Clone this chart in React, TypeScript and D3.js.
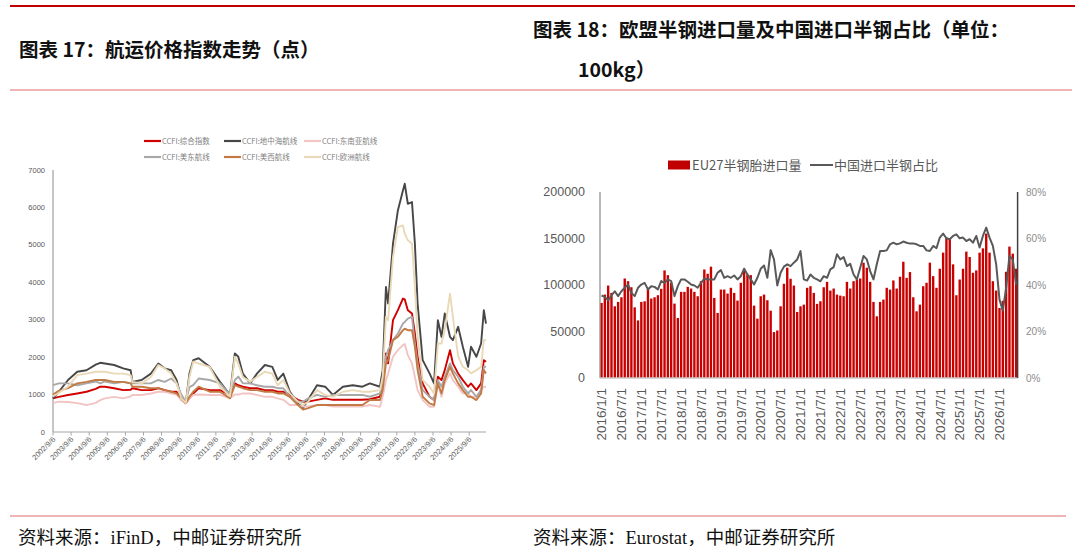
import React from 'react';
import * as d3 from 'd3';

// ---------- 图表17：CCFI 航运价格指数 ----------
const ccfiTime = [
  2002.68, 2003.0, 2003.51, 2004.02, 2004.53, 2005.04, 2005.29, 2005.55, 2006.06, 2006.56,
  2006.97, 2007.07, 2007.58, 2008.09, 2008.5, 2008.85, 2009.21, 2009.51, 2009.77, 2010.02,
  2010.22, 2010.43, 2010.73, 2011.34, 2011.91, 2012.46, 2012.73, 2012.92, 2013.17, 2013.58,
  2013.95, 2014.39, 2014.8, 2015.1, 2015.41, 2015.77, 2016.22, 2016.5, 2016.78, 2017.27,
  2017.72, 2018.15, 2018.7, 2019.25, 2019.78, 2020.19, 2020.75, 2020.9, 2021.08, 2021.2,
  2021.47, 2021.74, 2022.02, 2022.12, 2022.29, 2022.52, 2022.68, 2022.83, 2023.11, 2023.49,
  2023.74, 2023.95, 2024.15, 2024.33, 2024.62, 2024.78, 2025.07, 2025.33, 2025.62, 2025.78,
  2026.08, 2026.34, 2026.49, 2026.61,
];
const ccfiComposite = [
  900, 940, 990, 1030, 1075, 1150, 1210, 1210, 1170, 1120,
  1130, 1170, 1120, 1120, 1170, 1120, 1076, 1076, 860, 770,
  900, 1030, 1170, 1120, 1120, 990, 1300, 1250, 1210, 1170,
  1170, 1120, 1120, 1076, 1076, 990, 860, 810, 810, 860,
  900, 860, 860, 860, 860, 876, 942, 1298, 2098, 1832,
  2987, 3254, 3565, 3543, 3254, 3165, 2632, 2009, 1298, 942,
  853, 1476, 1387, 1653, 2187, 1832, 1565, 1387, 1209, 1298,
  1120, 1298, 1920, 1876,
];
const ccfiMed = [
  900, 1075, 1390, 1610, 1650, 1800, 1850, 1830, 1790, 1700,
  1650, 1340, 1390, 1560, 1830, 1700, 1650, 1390, 900, 780,
  1560, 1920, 1970, 1740, 1340, 990, 2100, 2010, 1560, 1300,
  1560, 1790, 1740, 1390, 1560, 1075, 770, 640, 860, 1250,
  1210, 990, 1210, 1250, 1210, 1300, 1209, 1653, 3876, 3432,
  5032, 5920, 6454, 6632, 6098, 6143, 5032, 3432, 1920, 1565,
  1298, 2987, 2543, 3165, 2543, 2454, 2810, 2276, 1742, 2276,
  2009, 2365, 3254, 2898,
];
const ccfiSEA = [
  770, 810, 800, 770, 720, 780, 850, 900, 940, 900,
  950, 990, 990, 1030, 1075, 1075, 1030, 990, 860, 770,
  900, 990, 1000, 990, 990, 900, 1000, 1000, 1030, 1030,
  990, 940, 940, 900, 860, 720, 720, 680, 680, 720,
  720, 680, 680, 680, 680, 720, 676, 942, 1387, 1565,
  2009, 2187, 2320, 2350, 2054, 1832, 1476, 1120, 853, 676,
  676, 1298, 942, 1298, 1565, 1387, 1209, 1031, 1031, 942,
  942, 1120, 1209, 1209,
];
const ccfiUSEast = [
  1250, 1300, 1300, 1250, 1300, 1350, 1300, 1350, 1300, 1340,
  1300, 1300, 1300, 1300, 1390, 1340, 1430, 1300, 1000, 800,
  1200, 1250, 1430, 1390, 1300, 1000, 1390, 1480, 1300, 1300,
  1250, 1210, 1210, 1170, 1170, 940, 810, 810, 900, 990,
  940, 990, 990, 990, 990, 942, 1031, 1298, 2009, 2187,
  2454, 2632, 2898, 2940, 3030, 3076, 2365, 1832, 1120, 942,
  853, 1387, 1209, 1476, 1832, 1653, 1476, 1209, 1031, 1120,
  942, 1120, 1742, 1742,
];
const ccfiUSWest = [
  1000, 1100, 1170, 1300, 1340, 1390, 1390, 1390, 1340, 1340,
  1300, 1210, 1210, 1170, 1170, 1120, 1076, 1030, 900, 780,
  940, 1076, 1210, 1076, 1076, 900, 1250, 1210, 1170, 1120,
  1120, 1075, 1075, 1030, 1030, 940, 720, 600, 640, 720,
  720, 720, 720, 720, 720, 853, 853, 1120, 1832, 1920,
  2454, 2543, 2720, 2760, 2720, 2720, 2276, 1653, 942, 764,
  720, 1298, 1031, 1387, 1742, 1565, 1298, 1120, 942, 942,
  853, 1031, 1653, 1565,
];
const ccfiEurope = [
  950, 1050, 1210, 1520, 1560, 1610, 1610, 1610, 1560, 1560,
  1520, 1340, 1300, 1470, 1790, 1700, 1560, 1300, 900, 780,
  1470, 1880, 1830, 1740, 1210, 950, 2010, 1830, 1470, 1340,
  1470, 1610, 1560, 1250, 1390, 1030, 810, 720, 810, 1120,
  990, 940, 1075, 1120, 1075, 1076, 1120, 1476, 3076, 2987,
  4676, 5476, 5520, 5298, 5120, 5032, 3876, 2543, 1387, 1209,
  1031, 2365, 2365, 2720, 3698, 3076, 2030, 1742, 1653, 1565,
  1653, 1742, 2454, 2454,
];
const ccfiYTicks = [0, 1000, 2000, 3000, 4000, 5000, 6000, 7000];
const ccfiXTicks = [
  '2002/9/6', '2003/9/6', '2004/9/6', '2005/9/6', '2006/9/6', '2007/9/6', '2008/9/6', '2009/9/6',
  '2010/9/6', '2011/9/6', '2012/9/6', '2013/9/6', '2014/9/6', '2015/9/6', '2016/9/6', '2017/9/6',
  '2018/9/6', '2019/9/6', '2020/9/6', '2021/9/6', '2022/9/6', '2023/9/6', '2024/9/6', '2025/9/6',
];

// ---------- 图表18：欧盟半钢胎进口量 ----------
const tyreMonths = Array.from({ length: 126 }, (_, i) => `${2016 + Math.floor(i / 12)}/${(i % 12) + 1}/1`);
const tyreImports = [
  80700, 89700, 99400, 91500, 77100, 81800, 86800, 107000, 104100, 97600,
  76000, 61900, 81800, 82500, 95900, 85400, 86800, 89000, 95900, 115700,
  110600, 102400, 80000, 64500, 92600, 92600, 98000, 96200, 92600, 87900,
  104100, 116700, 112100, 119700, 86100, 69900, 95100, 95100, 90800, 97000,
  91500, 83200, 102400, 116700, 111300, 110600, 77800, 63800, 87900, 89700,
  83600, 72400, 49400, 51100, 77100, 101300, 118600, 106700, 99400, 71000,
  77100, 78900, 97000, 98700, 91500,
  79700, 82500, 97600, 103400, 94000, 96200, 89700, 88600, 87900, 103400,
  96200, 104100, 105900, 107000, 124000, 118600, 103400, 81800, 66300, 81800,
  84300, 97000, 95100, 104900, 96200, 108900, 125000, 107700, 113900, 86800,
  71700, 78900, 98700, 102400, 124000, 109500, 97000, 117500, 134800, 151000,
  150300, 122200, 89000, 105900, 117500, 135900, 130100, 113100, 115700, 134800,
  139400, 155300, 134800, 104100, 94000, 75300, 83000, 114200, 141300, 133700,
  117500,
];
const chinaShare = [
  35.5, 34.9, 33.4, 35.5, 37.3, 35.2, 37.3, 38.8, 40.2, 36.6,
  35.2, 38.8, 40.2, 40.9, 38.1, 39.5, 39.2, 38.1, 41.7, 40.9,
  42.4, 41.7, 35.2, 39.5, 42.4, 42.4, 41.4, 40.2, 39.8, 38.8,
  40.9, 42.8, 42.4, 42.4, 42.4, 45.3, 46.4, 43.1, 43.8, 43.1,
  44.1, 42.4, 43.8, 47.0, 44.5, 42.4, 40.2, 43.1, 47.0, 48.4,
  43.1, 55.0, 51.0, 39.8, 45.3, 47.9, 48.9, 48.1, 49.6, 51.0,
  54.6, 42.4, 41.9, 44.5, 43.1,
  42.4, 41.6, 43.8, 43.1, 46.7, 47.7, 53.2, 51.0, 52.0, 48.1,
  49.1, 44.5, 42.4, 47.4, 52.5, 51.0, 46.0, 42.4, 48.9, 54.6,
  54.6, 54.9, 57.5, 58.2, 57.5, 57.9, 58.7, 58.2, 57.8, 57.9,
  57.5, 56.8, 56.8, 54.9, 54.6, 56.8, 55.8, 60.4, 62.1, 60.1,
  59.7, 61.1, 61.8, 60.1, 60.4, 58.9, 59.7, 58.2, 61.1, 56.1,
  61.1, 64.7, 60.4, 56.8, 48.9, 33.7, 29.0, 38.8, 52.5, 51.0,
  40.2,
];
const tyreYTicks = [0, 50000, 100000, 150000, 200000];
const shareTicks = [0, 20, 40, 60, 80];
const tyreXTicks = [
  '2016/1/1', '2016/7/1', '2017/1/1', '2017/7/1', '2018/1/1', '2018/7/1', '2019/1/1',
  '2019/7/1', '2020/1/1', '2020/7/1', '2021/1/1', '2021/7/1', '2022/1/1', '2022/7/1',
  '2023/1/1', '2023/7/1', '2024/1/1', '2024/7/1', '2025/1/1', '2025/7/1', '2026/1/1',
];

const SANS = "'Liberation Sans', Arial, 'Noto Sans CJK SC', sans-serif";
const CJK = "'Noto Sans CJK SC', 'Liberation Sans', sans-serif";
const SERIF = "'Liberation Serif', 'Noto Sans CJK SC', serif";

const ccfiSeries = [
  { name: 'CCFI:综合指数', values: ccfiComposite, color: '#d00000' },
  { name: 'CCFI:地中海航线', values: ccfiMed, color: '#474747' },
  { name: 'CCFI:东南亚航线', values: ccfiSEA, color: '#f2c4c4' },
  { name: 'CCFI:美东航线', values: ccfiUSEast, color: '#a8a8a8' },
  { name: 'CCFI:美西航线', values: ccfiUSWest, color: '#c27a45' },
  { name: 'CCFI:欧洲航线', values: ccfiEurope, color: '#ead9b6' },
];

function CcfiChart() {
  const x = d3.scaleLinear().domain([2002.68, 2026.61]).range([53, 486]);
  const y = d3.scaleLinear().domain([0, 7000]).range([432, 170]);
  const line = d3.line<number>()
    .x((_, i) => x(ccfiTime[i]))
    .y((d) => y(d));
  const legendCols = [144, 224, 304];

  return (
    <g>
      {ccfiSeries.map((s, k) => {
        const lx = legendCols[k % 3];
        const ly = k < 3 ? 141 : 157;
        return (
          <g key={s.name}>
            <line x1={lx} x2={lx + 17} y1={ly} y2={ly} stroke={s.color} strokeWidth={2.2} />
            <text x={lx + 18} y={ly} dy="0.35em" fontSize={7.5} fill="#7f7f7f" fontFamily={CJK}>{s.name}</text>
          </g>
        );
      })}
      {ccfiYTicks.map((t) => (
        <text key={t} x={45} y={y(t)} dy="0.35em" textAnchor="end" fontSize={7.5} fill="#595959" fontFamily={SANS}>{t}</text>
      ))}
      <line x1={53} x2={53} y1={170} y2={432} stroke="#8c8c8c" strokeWidth={1} />
      <line x1={53} x2={486} y1={432} y2={432} stroke="#a6a6a6" strokeWidth={1.2} />
      {ccfiXTicks.map((lab) => {
        const tx = x(parseInt(lab) + 0.68);
        return (
          <g key={lab}>
            <line x1={tx} x2={tx} y1={432} y2={435.5} stroke="#a6a6a6" strokeWidth={1} />
            <text transform={`translate(${tx + 1},${438}) rotate(-45)`} textAnchor="end" dy="0.35em" fontSize={7.5} fill="#595959" fontFamily={SANS}>{lab}</text>
          </g>
        );
      })}
      {ccfiSeries.map((s) => (
        <path key={s.name} d={line(s.values) ?? ''} fill="none" stroke={s.color} strokeWidth={1.9} strokeLinejoin="round" />
      ))}
    </g>
  );
}

function TyreChart() {
  const x = d3.scaleBand<string>().domain(tyreMonths).range([600, 1017.6]).paddingInner(0.28).paddingOuter(0.1);
  const y = d3.scaleLinear().domain([0, 200000]).range([378, 192]);
  const y2 = d3.scaleLinear().domain([0, 80]).range([378, 192]);
  const bw = x.bandwidth();
  const line = d3.line<number>()
    .x((_, i) => (x(tyreMonths[i]) ?? 0) + bw / 2)
    .y((d) => y2(d));

  return (
    <g>
      <rect x={668} y={160.5} width={22} height={9} fill="#c00000" />
      <text x={692} y={165} dy="0.35em" fontSize={13} fill="#595959" fontFamily={CJK}>EU27半钢胎进口量</text>
      <line x1={810} x2={833} y1={165} y2={165} stroke="#595959" strokeWidth={2} />
      <text x={834} y={165} dy="0.35em" fontSize={13} fill="#595959" fontFamily={CJK}>中国进口半钢占比</text>

      {tyreYTicks.map((t) => (
        <text key={t} x={585} y={y(t)} dy="0.35em" textAnchor="end" fontSize={12.5} fill="#595959" fontFamily={SANS}>{t}</text>
      ))}
      {shareTicks.map((t) => (
        <text key={t} x={1026} y={y2(t)} dy="0.35em" fontSize={10} fill="#8c8c8c" fontFamily={SANS}>{t}%</text>
      ))}

      {tyreImports.map((v, i) => (
        <rect key={i} x={x(tyreMonths[i])} y={y(v)} width={bw} height={378 - y(v)} fill="#c80000" />
      ))}

      <line x1={600} x2={600} y1={192} y2={378} stroke="#8c8c8c" strokeWidth={1.2} />
      <line x1={600} x2={1017.6} y1={378} y2={378} stroke="#c8c8c8" strokeWidth={1.5} />
      <line x1={1017.6} x2={1017.6} y1={192} y2={378} stroke="#404040" strokeWidth={1.5} />

      <path d={line(chinaShare) ?? ''} fill="none" stroke="#595959" strokeWidth={2} strokeLinejoin="round" />

      {tyreXTicks.map((lab) => {
        const tx = (x(lab) ?? 0) + bw / 2;
        return (
          <text key={lab} transform={`translate(${tx},${388}) rotate(-90)`} textAnchor="end" dy="0.35em" fontSize={13.5} fill="#595959" fontFamily={SANS}>{lab}</text>
        );
      })}
    </g>
  );
}

export default function App() {
  return (
    <div style={{ position: 'absolute', left: 0, top: 0, width: 1080, height: 554, background: '#fff' }}>
      <svg width={1080} height={554} viewBox="0 0 1080 554" style={{ display: 'block' }}>
        <rect width={1080} height={554} fill="#fff" />
        <line x1={10} x2={1075} y1={6} y2={6} stroke="#c00000" strokeWidth={2.2} />
        <text x={19} y={50} dy="0.35em" fontSize={19.5} fontWeight={700} fill="#111" fontFamily={CJK}>图表 17：航运价格指数走势（点）</text>
        <text x={533} y={30} dy="0.35em" fontSize={19.5} fontWeight={700} fill="#111" fontFamily={CJK}>图表 18：欧盟半钢进口量及中国进口半钢占比（单位：</text>
        <text x={578} y={70} dy="0.35em" fontSize={19.5} fontWeight={700} fill="#111" fontFamily={CJK}>100kg）</text>
        <line x1={10} x2={1072} y1={90} y2={90} stroke="#e06c6c" strokeWidth={1.2} />

        <CcfiChart />
        <TyreChart />

        <line x1={10} x2={1066} y1={516} y2={516} stroke="#e06c6c" strokeWidth={1.2} />
        <text x={18} y={538} dy="0.35em" fontSize={18.5} fill="#111" fontFamily={SERIF}>资料来源：iFinD，中邮证券研究所</text>
        <text x={533} y={538} dy="0.35em" fontSize={18.5} fill="#111" fontFamily={SERIF}>资料来源：Eurostat，中邮证券研究所</text>
      </svg>
    </div>
  );
}
